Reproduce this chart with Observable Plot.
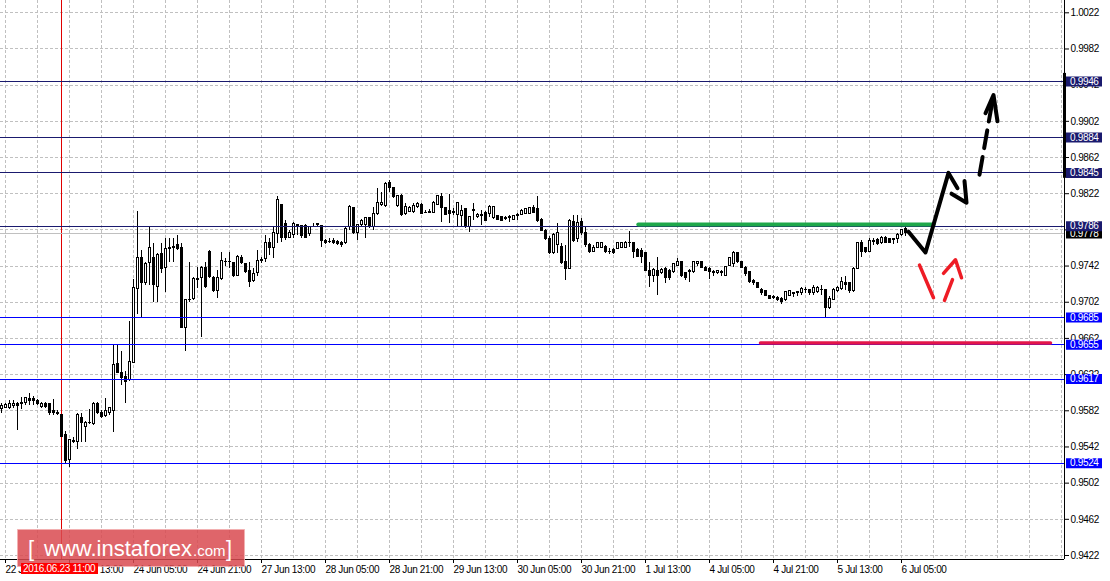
<!DOCTYPE html>
<html><head><meta charset="utf-8">
<script src="https://cdn.jsdelivr.net/npm/d3@7"></script>
<script src="https://cdn.jsdelivr.net/npm/@observablehq/plot@0.6"></script>
<style>
html,body{margin:0;padding:0;background:#fff;}
#chart{width:1110px;height:581px;overflow:hidden;position:relative;}
svg{display:block}
</style></head><body><div id="chart"></div>
<script>
// USDCHF H1 candles, bar 0 = 22 Jun 20:00
const open = [0.9584,0.9585,0.9585,0.9587,0.9589,0.9589,0.9591,0.9595,0.9595,0.9593,0.9586,0.9590,0.9590,0.9582,0.9580,0.9577,0.9555,0.9528,0.9549,0.9548,0.9574,0.9564,0.9569,0.9567,0.9590,0.9580,0.9576,0.9580,0.9582,0.9634,0.9624,0.9619,0.9616,0.9635,0.9717,0.9751,0.9723,0.9745,0.9751,0.9719,0.9755,0.9740,0.9761,0.9762,0.9765,0.9762,0.9674,0.9704,0.9706,0.9728,0.9729,0.9740,0.9757,0.9729,0.9714,0.9728,0.9747,0.9746,0.9745,0.9731,0.9751,0.9744,0.9736,0.9726,0.9734,0.9748,0.9750,0.9767,0.9762,0.9777,0.9809,0.9789,0.9773,0.9776,0.9786,0.9786,0.9786,0.9777,0.9786,0.9787,0.9786,0.9770,0.9769,0.9770,0.9769,0.9768,0.9767,0.9785,0.9806,0.9778,0.9787,0.9787,0.9795,0.9785,0.9800,0.9809,0.9808,0.9834,0.9828,0.9808,0.9820,0.9800,0.9802,0.9802,0.9807,0.9810,0.9801,0.9801,0.9801,0.9810,0.9818,0.9806,0.9803,0.9801,0.9798,0.9797,0.9805,0.9785,0.9803,0.9796,0.9798,0.9801,0.9800,0.9795,0.9797,0.9796,0.9795,0.9796,0.9793,0.9798,0.9799,0.9800,0.9800,0.9806,0.9805,0.9793,0.9781,0.9772,0.9756,0.9765,0.9763,0.9746,0.9739,0.9791,0.9772,0.9791,0.9778,0.9765,0.9758,0.9762,0.9762,0.9763,0.9758,0.9760,0.9761,0.9762,0.9762,0.9767,0.9767,0.9760,0.9759,0.9756,0.9737,0.9731,0.9736,0.9734,0.9739,0.9737,0.9735,0.9742,0.9747,0.9734,0.9737,0.9735,0.9744,0.9746,0.9740,0.9739,0.9735,0.9734,0.9734,0.9731,0.9742,0.9744,0.9756,0.9746,0.9740,0.9735,0.9726,0.9723,0.9716,0.9714,0.9709,0.9707,0.9707,0.9706,0.9704,0.9709,0.9712,0.9712,0.9712,0.9716,0.9715,0.9712,0.9713,0.9716,0.9715,0.9696,0.9705,0.9714,0.9717,0.9723,0.9723,0.9714,0.9739,0.9767,0.9762,0.9758,0.9770,0.9771,0.9767,0.9773,0.9772,0.9772,0.9772,0.9776,0.9783];
const high = [0.9590,0.9590,0.9593,0.9593,0.9591,0.9597,0.9597,0.9601,0.9598,0.9594,0.9591,0.9591,0.9590,0.9595,0.9582,0.9577,0.9559,0.9550,0.9553,0.9579,0.9579,0.9570,0.9583,0.9591,0.9591,0.9582,0.9596,0.9585,0.9655,0.9655,0.9647,0.9625,0.9681,0.9727,0.9802,0.9759,0.9746,0.9785,0.9767,0.9756,0.9767,0.9773,0.9773,0.9772,0.9776,0.9767,0.9704,0.9746,0.9729,0.9740,0.9742,0.9746,0.9759,0.9731,0.9737,0.9757,0.9750,0.9757,0.9745,0.9754,0.9754,0.9745,0.9746,0.9739,0.9759,0.9751,0.9776,0.9773,0.9785,0.9819,0.9809,0.9792,0.9781,0.9790,0.9787,0.9787,0.9788,0.9786,0.9789,0.9789,0.9787,0.9771,0.9773,0.9773,0.9770,0.9769,0.9785,0.9809,0.9807,0.9787,0.9793,0.9796,0.9796,0.9807,0.9828,0.9823,0.9834,0.9837,0.9829,0.9820,0.9821,0.9811,0.9808,0.9811,0.9812,0.9811,0.9803,0.9805,0.9813,0.9820,0.9822,0.9807,0.9821,0.9806,0.9812,0.9809,0.9806,0.9796,0.9811,0.9800,0.9803,0.9802,0.9809,0.9808,0.9798,0.9797,0.9797,0.9798,0.9798,0.9800,0.9805,0.9806,0.9807,0.9809,0.9819,0.9795,0.9782,0.9775,0.9778,0.9789,0.9767,0.9765,0.9793,0.9798,0.9798,0.9795,0.9786,0.9767,0.9765,0.9768,0.9768,0.9765,0.9761,0.9761,0.9768,0.9768,0.9769,0.9780,0.9768,0.9761,0.9761,0.9757,0.9746,0.9739,0.9752,0.9739,0.9740,0.9738,0.9745,0.9750,0.9747,0.9735,0.9738,0.9747,0.9747,0.9747,0.9741,0.9740,0.9737,0.9737,0.9737,0.9742,0.9752,0.9758,0.9757,0.9747,0.9741,0.9736,0.9727,0.9724,0.9717,0.9715,0.9710,0.9710,0.9708,0.9707,0.9714,0.9715,0.9713,0.9714,0.9718,0.9718,0.9716,0.9720,0.9719,0.9720,0.9716,0.9708,0.9717,0.9719,0.9729,0.9730,0.9724,0.9740,0.9768,0.9770,0.9763,0.9773,0.9773,0.9772,0.9775,0.9775,0.9773,0.9773,0.9778,0.9782,0.9785];
const low = [0.9579,0.9584,0.9583,0.9585,0.9560,0.9583,0.9588,0.9588,0.9588,0.9588,0.9585,0.9585,0.9577,0.9577,0.9577,0.9553,0.9524,0.9519,0.9546,0.9539,0.9547,0.9547,0.9567,0.9566,0.9578,0.9574,0.9575,0.9577,0.9558,0.9623,0.9610,0.9590,0.9614,0.9634,0.9689,0.9684,0.9720,0.9720,0.9702,0.9702,0.9734,0.9713,0.9746,0.9746,0.9759,0.9674,0.9648,0.9702,0.9704,0.9717,0.9663,0.9717,0.9728,0.9713,0.9706,0.9726,0.9742,0.9739,0.9729,0.9730,0.9744,0.9734,0.9718,0.9724,0.9731,0.9745,0.9746,0.9754,0.9750,0.9767,0.9768,0.9770,0.9772,0.9773,0.9776,0.9773,0.9772,0.9775,0.9785,0.9785,0.9762,0.9766,0.9767,0.9766,0.9765,0.9763,0.9766,0.9781,0.9777,0.9770,0.9786,0.9773,0.9783,0.9781,0.9798,0.9808,0.9807,0.9823,0.9817,0.9807,0.9797,0.9798,0.9801,0.9800,0.9806,0.9799,0.9800,0.9800,0.9800,0.9809,0.9790,0.9798,0.9789,0.9798,0.9785,0.9785,0.9783,0.9779,0.9792,0.9795,0.9787,0.9791,0.9796,0.9793,0.9792,0.9791,0.9792,0.9790,0.9792,0.9792,0.9798,0.9799,0.9799,0.9800,0.9790,0.9780,0.9770,0.9755,0.9755,0.9756,0.9744,0.9726,0.9738,0.9768,0.9768,0.9776,0.9763,0.9756,0.9757,0.9761,0.9761,0.9756,0.9755,0.9755,0.9760,0.9761,0.9761,0.9762,0.9750,0.9751,0.9745,0.9736,0.9718,0.9724,0.9709,0.9733,0.9723,0.9726,0.9734,0.9741,0.9729,0.9726,0.9724,0.9734,0.9742,0.9739,0.9736,0.9727,0.9731,0.9733,0.9731,0.9730,0.9741,0.9740,0.9745,0.9739,0.9731,0.9723,0.9720,0.9717,0.9710,0.9708,0.9705,0.9705,0.9703,0.9700,0.9703,0.9708,0.9707,0.9708,0.9710,0.9712,0.9710,0.9709,0.9712,0.9709,0.9685,0.9694,0.9704,0.9713,0.9715,0.9715,0.9712,0.9713,0.9738,0.9752,0.9756,0.9757,0.9765,0.9765,0.9766,0.9767,0.9767,0.9766,0.9767,0.9775,0.9775];
const close = [0.9587,0.9588,0.9590,0.9590,0.9587,0.9591,0.9596,0.9593,0.9593,0.9590,0.9590,0.9586,0.9579,0.9580,0.9578,0.9553,0.9527,0.9550,0.9548,0.9577,0.9569,0.9569,0.9568,0.9590,0.9579,0.9575,0.9582,0.9585,0.9633,0.9624,0.9618,0.9614,0.9636,0.9718,0.9751,0.9723,0.9744,0.9762,0.9721,0.9754,0.9739,0.9761,0.9762,0.9763,0.9761,0.9674,0.9704,0.9705,0.9728,0.9727,0.9740,0.9719,0.9730,0.9714,0.9729,0.9748,0.9746,0.9747,0.9731,0.9752,0.9745,0.9735,0.9724,0.9733,0.9748,0.9749,0.9767,0.9762,0.9778,0.9815,0.9773,0.9773,0.9778,0.9789,0.9787,0.9775,0.9773,0.9785,0.9786,0.9788,0.9770,0.9767,0.9769,0.9768,0.9766,0.9765,0.9783,0.9807,0.9778,0.9787,0.9792,0.9795,0.9785,0.9800,0.9812,0.9812,0.9833,0.9828,0.9818,0.9819,0.9798,0.9807,0.9806,0.9808,0.9811,0.9800,0.9801,0.9802,0.9812,0.9819,0.9806,0.9799,0.9800,0.9802,0.9812,0.9803,0.9785,0.9796,0.9804,0.9799,0.9797,0.9792,0.9807,0.9807,0.9793,0.9792,0.9794,0.9795,0.9797,0.9797,0.9803,0.9805,0.9806,0.9801,0.9792,0.9781,0.9772,0.9756,0.9776,0.9779,0.9745,0.9739,0.9792,0.9770,0.9790,0.9778,0.9765,0.9757,0.9762,0.9767,0.9767,0.9757,0.9758,0.9756,0.9767,0.9767,0.9768,0.9768,0.9758,0.9752,0.9752,0.9737,0.9731,0.9738,0.9731,0.9738,0.9729,0.9729,0.9744,0.9746,0.9731,0.9729,0.9735,0.9746,0.9746,0.9740,0.9737,0.9735,0.9734,0.9736,0.9735,0.9741,0.9751,0.9756,0.9746,0.9740,0.9733,0.9724,0.9723,0.9718,0.9712,0.9709,0.9706,0.9708,0.9704,0.9702,0.9713,0.9714,0.9711,0.9713,0.9717,0.9715,0.9712,0.9718,0.9718,0.9715,0.9696,0.9706,0.9716,0.9718,0.9724,0.9721,0.9714,0.9739,0.9767,0.9757,0.9757,0.9770,0.9769,0.9766,0.9773,0.9768,0.9768,0.9771,0.9776,0.9782,0.9778];

// visible window (bar index, price)
const xDomain = [-0.25, 265.75];
const yDomain = [0.941758, 1.00356];

// axes
const xTickIndex = [1,17,33,49,65,81,97,113,129,145,161,177,193,209,225];
const xTickLabels = ["22 Jun 21:00","23 Jun 13:00","24 Jun 05:00","24 Jun 21:00","27 Jun 13:00","28 Jun 05:00","28 Jun 21:00","29 Jun 13:00","30 Jun 05:00","30 Jun 21:00","1 Jul 13:00","4 Jul 05:00","4 Jul 21:00","5 Jul 13:00","6 Jul 05:00"];
const xGridIndex = [1,9,17,25,33,41,49,57,65,73,81,89,97,105,113,121,129,137,145,153,161,169,177,185,193,201,209,217,225,233,241,249,257,265];
const yTicks = [1.0022,0.9982,0.9942,0.9902,0.9862,0.9822,0.9782,0.9742,0.9702,0.9662,0.9622,0.9582,0.9542,0.9502,0.9462,0.9422];

// horizontal levels
const levelPrices = [0.9946,0.9884,0.9845,0.9786,0.9685,0.9655,0.9617,0.9524];
const levelColors = ["#1a1a6e","#1a1a6e","#1a1a6e","#1a1a6e","#0000ff","#0000ff","#0000ff","#0000ff"];
const bidPrice = 0.9778;
const cursorBar = 15; // 2016.06.23 11:00
const axisMarker = [0.9955, 0.9839];

// drawn objects (bar index, price)
const greenLine = [[159.2,0.9788],[233.0,0.9788]];
const redLine = [[189.75,0.9657],[262.25,0.9657]];
const blackPath = [[226.75,0.9780],[231,0.9757],[236.75,0.9845],[239,0.9828]];
const blackHead = [[237.5,0.9822],[241.25,0.9812],[240.75,0.9836]];
const blackDash = [[244.5,0.9843],[247.75,0.9925]];
const blackDashHead = [[246,0.9911],[248,0.9931],[249,0.9902]];
const redPath = [[229.5,0.9743],[233,0.9707]];
const redShaft = [[235.75,0.9704],[237.75,0.9727]];
const redHead = [[235.5,0.9734],[238.5,0.9749],[240,0.9729]];

const bars = open.map((o, i) => ({i, open: o, high: high[i], low: low[i], close: close[i]}));
const bodies = bars.filter(d => d.open !== d.close);
const dojis = bars.filter(d => d.open === d.close);
const labelMap = new Map(xTickIndex.map((t, k) => [t, xTickLabels[k]]));
const levels = levelPrices.map((v, k) => ({v, c: levelColors[k]}));
const tagX1 = xDomain[1] + 0.5, tagX2 = xDomain[1] + 9.5, tagTx = xDomain[1] + 1.4;
const pts = a => a.map(([i, p]) => ({i, p}));
const FONT = "'Liberation Sans',Arial,sans-serif";
const crisp = {shapeRendering: "crispEdges"};

const chart = Plot.plot({
  width: 1110, height: 581,
  marginLeft: 0, marginRight: 46, marginTop: 0, marginBottom: 22,
  x: {type: "linear", domain: xDomain},
  y: {type: "linear", domain: yDomain},
  color: {type: "identity"},
  style: {fontFamily: FONT, fontSize: "10px", letterSpacing: "-0.35px", color: "black", background: "white", overflow: "visible"},
  marks: [
    Plot.ruleY(yTicks, {stroke: "#c0c0c0", strokeDasharray: "3,2", ...crisp}),
    Plot.ruleX(xGridIndex, {stroke: "#c0c0c0", strokeDasharray: "3,2", ...crisp}),
    Plot.ruleX([cursorBar], {stroke: "#e00000", ...crisp}),
    Plot.ruleY([bidPrice], {stroke: "#c0c0c0", ...crisp}),
    Plot.ruleX(bars, {x: "i", y1: "low", y2: "high", stroke: "black", ...crisp}),
    Plot.rect(bodies, {x1: d => d.i - 0.25, x2: d => d.i + 0.25, y1: "open", y2: "close",
      fill: d => d.close > d.open ? "white" : "black", stroke: "black", ...crisp}),
    Plot.ruleY(dojis, {y: "open", x1: d => d.i - 0.375, x2: d => d.i + 0.375, stroke: "black", ...crisp}),
    Plot.ruleY(levels, {y: "v", stroke: "c", ...crisp}),
    Plot.line(pts(greenLine), {x: "i", y: "p", stroke: "#1fa84a", strokeWidth: 4}),
    Plot.line(pts(redLine), {x: "i", y: "p", stroke: "#e3164a", strokeWidth: 3.5}),
    Plot.line(pts(blackPath), {x: "i", y: "p", stroke: "black", strokeWidth: 4}),
    Plot.line(pts(blackHead), {x: "i", y: "p", stroke: "black", strokeWidth: 4}),
    Plot.line(pts(blackDash), {x: "i", y: "p", stroke: "black", strokeWidth: 4, strokeDasharray: "18,9"}),
    Plot.line(pts(blackDashHead), {x: "i", y: "p", stroke: "black", strokeWidth: 4}),
    Plot.line(pts(redPath), {x: "i", y: "p", stroke: "#ee1c25", strokeWidth: 3.5}),
    Plot.line(pts(redShaft), {x: "i", y: "p", stroke: "#ee1c25", strokeWidth: 3.5}),
    Plot.line(pts(redHead), {x: "i", y: "p", stroke: "#ee1c25", strokeWidth: 3.5}),
    Plot.ruleY([yDomain[0]], {stroke: "black", ...crisp}),
    Plot.ruleX([xDomain[1]], {stroke: "black", ...crisp}),
    Plot.ruleX([xDomain[1]], {y1: axisMarker[0], y2: axisMarker[1], stroke: "black", strokeWidth: 3}),
    Plot.axisX(xTickIndex, {anchor: "bottom", tickFormat: d => labelMap.get(d), tickSize: 4, tickPadding: 2,
      textAnchor: "start", dx: 0, label: null}),
    Plot.axisY(yTicks, {anchor: "right", tickFormat: d => d.toFixed(4), tickSize: 4, tickPadding: 2, label: null}),
    Plot.ruleY([bidPrice], {x1: tagX1, x2: tagX2, stroke: "black", strokeWidth: 10}),
    Plot.text([bidPrice], {x: tagTx, y: d => d, text: d => d.toFixed(4), fill: "white", textAnchor: "start", dy: 0.5}),
    Plot.ruleY(levels, {y: "v", x1: tagX1, x2: tagX2, stroke: "c", strokeWidth: 10}),
    Plot.text(levels, {x: tagTx, y: "v", text: d => d.v.toFixed(4), fill: "white", textAnchor: "start"})
  ]
});
document.getElementById("chart").appendChild(chart);

// watermark and cursor date label
const svg = d3.select(chart);
const wm = svg.append("g").attr("font-family", FONT).attr("fill", "white")
  .attr("text-anchor", "start").attr("letter-spacing", "0");
wm.append("rect").attr("x", 17.5).attr("y", 529.5).attr("width", 227).attr("height", 37)
  .attr("fill", "#d94a50").attr("fill-opacity", 0.85).attr("stroke", "#f2b0b0").attr("stroke-opacity", 0.8);
wm.append("text").attr("x", 28).attr("y", 556).attr("font-size", 22).text("[");
wm.append("text").attr("x", 44).attr("y", 556).attr("font-size", 22).text("www.instaforex");
wm.append("text").attr("x", 193).attr("y", 556).attr("font-size", 15).text(".com");
wm.append("text").attr("x", 226).attr("y", 556).attr("font-size", 22).text("]");
const tag = svg.append("g").attr("font-family", FONT).attr("text-anchor", "start");
tag.append("rect").attr("x", 21).attr("y", 563).attr("width", 77).attr("height", 11).attr("fill", "#ff0000");
tag.append("text").attr("x", 23).attr("y", 572).attr("fill", "white").attr("font-size", 10)
  .attr("letter-spacing", "-0.3px").text("2016.06.23 11:00");
</script></body></html>
